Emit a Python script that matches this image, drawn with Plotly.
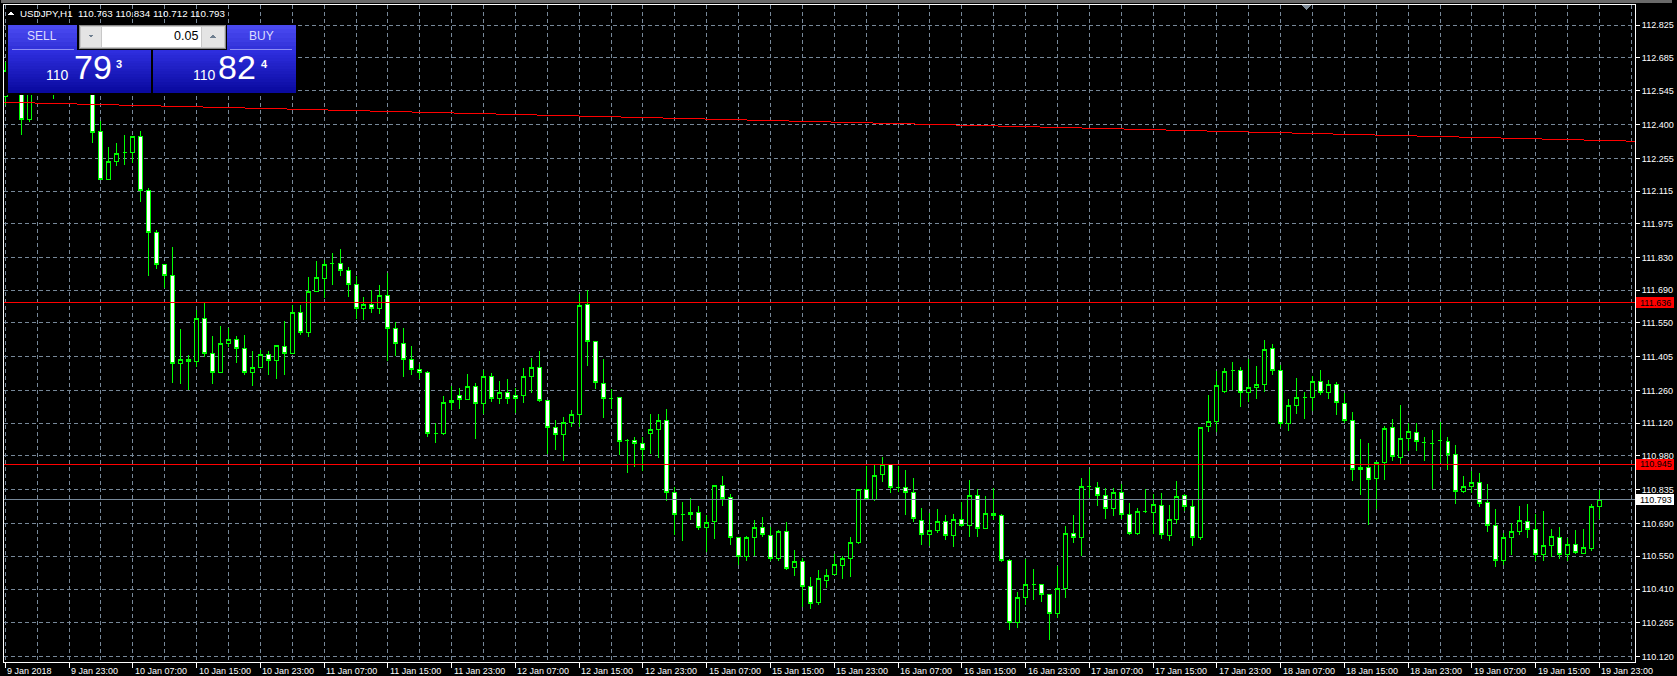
import plotly.graph_objects as go

# ---------------- data (USDJPY, H1) ----------------
opens = [112.520, 112.630, 112.700, 112.422, 112.620, 112.710, 112.760, 112.600, 112.660, 112.690,
         112.630, 112.620, 112.369, 112.165, 112.242, 112.281, 112.281, 112.349, 112.118, 111.938,
         111.801, 111.752, 111.377, 111.394, 111.386, 111.570, 111.420, 111.338, 111.463, 111.480,
         111.441, 111.338, 111.360, 111.416, 111.390, 111.450, 111.420, 111.595, 111.510, 111.685,
         111.739, 111.805, 111.805, 111.775, 111.715, 111.613, 111.631, 111.613, 111.668, 111.527,
         111.463, 111.394, 111.351, 111.338, 111.077, 111.077, 111.219, 111.240, 111.223, 111.278,
         111.206, 111.321, 111.227, 111.253, 111.240, 111.240, 111.321, 111.360, 111.219, 111.103,
         111.073, 111.124, 111.159, 111.630, 111.471, 111.291, 111.227, 111.231, 111.047, 111.047,
         111.034, 111.077, 111.094, 111.133, 110.824, 110.730, 110.739, 110.739, 110.675, 110.701,
         110.854, 110.803, 110.632, 110.550, 110.632, 110.675, 110.640, 110.541, 110.657, 110.502,
         110.528, 110.422, 110.353, 110.447, 110.473, 110.511, 110.541, 110.610, 110.837, 110.795,
         110.900, 110.944, 110.845, 110.845, 110.824, 110.705, 110.644, 110.662, 110.701, 110.640,
         110.709, 110.682, 110.811, 110.670, 110.734, 110.726, 110.533, 110.268, 110.373, 110.431,
         110.430, 110.387, 110.307, 110.413, 110.649, 110.632, 110.848, 110.845, 110.811, 110.754,
         110.824, 110.730, 110.649, 110.743, 110.739, 110.769, 110.640, 110.709, 110.811, 110.765,
         110.632, 111.107, 111.129, 111.257, 111.345, 111.347, 111.254, 111.274, 111.287, 111.441,
         111.347, 111.120, 111.197, 111.231, 111.231, 111.300, 111.253, 111.287, 111.206, 111.133,
         110.923, 110.931, 110.884, 110.953, 111.103, 110.975, 111.055, 111.081, 111.037, 111.034,
         111.045, 111.043, 110.985, 110.829, 110.850, 110.867, 110.781, 110.682, 110.534, 110.632,
         110.655, 110.701, 110.667, 110.559, 110.596, 110.632, 110.559, 110.602, 110.563, 110.585,
         110.763]
highs = [112.668, 112.740, 112.730, 112.660, 112.750, 112.800, 112.790, 112.700, 112.730, 112.720,
         112.680, 112.650, 112.415, 112.302, 112.319, 112.354, 112.349, 112.372, 112.127, 111.947,
         111.801, 111.875, 111.524, 111.411, 111.604, 111.640, 111.494, 111.536, 111.527, 111.494,
         111.497, 111.428, 111.432, 111.428, 111.454, 111.557, 111.625, 111.627, 111.745, 111.814,
         111.818, 111.849, 111.867, 111.790, 111.750, 111.660, 111.690, 111.711, 111.763, 111.553,
         111.527, 111.449, 111.373, 111.343, 111.120, 111.236, 111.278, 111.270, 111.331, 111.291,
         111.347, 111.334, 111.300, 111.308, 111.270, 111.357, 111.398, 111.428, 111.219, 111.133,
         111.146, 111.176, 111.673, 111.690, 111.471, 111.394, 111.266, 111.231, 111.051, 111.060,
         111.062, 111.159, 111.159, 111.181, 110.848, 110.783, 110.800, 110.766, 110.729, 110.854,
         110.894, 110.817, 110.632, 110.637, 110.706, 110.718, 110.677, 110.663, 110.697, 110.576,
         110.545, 110.460, 110.490, 110.494, 110.558, 110.550, 110.632, 110.837, 110.936, 110.941,
         110.974, 110.944, 110.936, 110.920, 110.886, 110.758, 110.735, 110.752, 110.727, 110.731,
         110.781, 110.877, 110.837, 110.807, 110.842, 110.730, 110.540, 110.396, 110.540, 110.494,
         110.432, 110.387, 110.508, 110.678, 110.727, 110.885, 110.923, 110.870, 110.842, 110.842,
         110.859, 110.777, 110.756, 110.837, 110.816, 110.820, 110.769, 110.872, 110.816, 110.795,
         111.105, 111.240, 111.344, 111.356, 111.381, 111.360, 111.394, 111.364, 111.476, 111.458,
         111.370, 111.223, 111.313, 111.255, 111.321, 111.347, 111.304, 111.296, 111.248, 111.167,
         111.051, 111.034, 110.955, 111.107, 111.137, 111.197, 111.120, 111.120, 111.062, 111.092,
         111.126, 111.062, 111.027, 110.893, 110.914, 110.907, 110.860, 110.753, 110.651, 110.691,
         110.766, 110.774, 110.730, 110.744, 110.666, 110.675, 110.627, 110.662, 110.666, 110.773,
         110.834]
lows = [112.484, 112.580, 112.355, 112.410, 112.600, 112.660, 112.509, 112.560, 112.620, 112.600,
        112.580, 112.322, 112.162, 112.165, 112.222, 112.228, 112.234, 112.069, 111.752, 111.781,
        111.698, 111.293, 111.290, 111.261, 111.360, 111.405, 111.287, 111.338, 111.448, 111.377,
        111.327, 111.278, 111.360, 111.326, 111.308, 111.326, 111.420, 111.497, 111.491, 111.681,
        111.655, 111.711, 111.750, 111.662, 111.566, 111.561, 111.591, 111.587, 111.386, 111.407,
        111.319, 111.326, 111.311, 111.062, 111.037, 111.071, 111.177, 111.181, 111.223, 111.054,
        111.159, 111.210, 111.204, 111.204, 111.163, 111.208, 111.248, 111.210, 110.987, 111.007,
        110.959, 111.106, 111.106, 111.367, 111.266, 111.144, 111.183, 110.983, 110.908, 110.934,
        110.917, 110.988, 110.970, 110.788, 110.641, 110.615, 110.706, 110.662, 110.568, 110.624,
        110.767, 110.600, 110.513, 110.530, 110.550, 110.632, 110.531, 110.531, 110.491, 110.467,
        110.334, 110.323, 110.342, 110.413, 110.473, 110.453, 110.463, 110.601, 110.790, 110.788,
        110.870, 110.820, 110.824, 110.729, 110.695, 110.600, 110.593, 110.651, 110.621, 110.592,
        110.675, 110.634, 110.634, 110.666, 110.705, 110.527, 110.234, 110.242, 110.342, 110.363,
        110.355, 110.192, 110.286, 110.373, 110.606, 110.553, 110.800, 110.767, 110.711, 110.724,
        110.711, 110.640, 110.641, 110.734, 110.644, 110.624, 110.615, 110.688, 110.743, 110.593,
        110.619, 111.083, 111.082, 111.248, 111.263, 111.189, 111.210, 111.224, 111.255, 111.328,
        111.105, 111.088, 111.160, 111.140, 111.174, 111.242, 111.223, 111.155, 111.120, 110.874,
        110.814, 110.686, 110.753, 110.878, 110.958, 110.946, 111.003, 111.003, 110.960, 110.837,
        110.952, 110.920, 110.774, 110.821, 110.822, 110.760, 110.654, 110.504, 110.513, 110.555,
        110.641, 110.629, 110.530, 110.530, 110.548, 110.540, 110.530, 110.561, 110.559, 110.572,
        110.712]
closes = [112.630, 112.700, 112.422, 112.620, 112.710, 112.760, 112.600, 112.660, 112.690, 112.630,
          112.620, 112.367, 112.165, 112.242, 112.277, 112.281, 112.349, 112.118, 111.938, 111.801,
          111.752, 111.377, 111.394, 111.386, 111.570, 111.420, 111.338, 111.463, 111.480, 111.441,
          111.338, 111.360, 111.416, 111.390, 111.454, 111.420, 111.595, 111.510, 111.685, 111.745,
          111.801, 111.805, 111.775, 111.715, 111.613, 111.631, 111.613, 111.668, 111.527, 111.463,
          111.394, 111.351, 111.337, 111.077, 111.077, 111.210, 111.210, 111.223, 111.278, 111.206,
          111.321, 111.227, 111.253, 111.227, 111.227, 111.321, 111.360, 111.219, 111.103, 111.073,
          111.124, 111.159, 111.625, 111.471, 111.296, 111.227, 111.227, 111.043, 111.047, 111.034,
          111.009, 111.094, 111.133, 110.824, 110.730, 110.730, 110.730, 110.675, 110.697, 110.854,
          110.799, 110.632, 110.550, 110.632, 110.675, 110.644, 110.541, 110.657, 110.498, 110.528,
          110.422, 110.349, 110.456, 110.469, 110.515, 110.541, 110.610, 110.837, 110.795, 110.896,
          110.944, 110.845, 110.845, 110.824, 110.712, 110.644, 110.662, 110.701, 110.640, 110.709,
          110.682, 110.811, 110.670, 110.734, 110.726, 110.533, 110.268, 110.373, 110.430, 110.431,
          110.385, 110.307, 110.413, 110.649, 110.632, 110.850, 110.848, 110.811, 110.754, 110.824,
          110.730, 110.649, 110.743, 110.743, 110.773, 110.644, 110.709, 110.807, 110.765, 110.632,
          111.103, 111.129, 111.283, 111.343, 111.345, 111.254, 111.274, 111.287, 111.437, 111.347,
          111.120, 111.197, 111.231, 111.231, 111.300, 111.253, 111.287, 111.210, 111.133, 110.923,
          110.931, 110.880, 110.953, 111.099, 110.979, 111.055, 111.086, 111.043, 111.037, 111.034,
          111.045, 110.987, 110.829, 110.850, 110.867, 110.775, 110.682, 110.534, 110.632, 110.657,
          110.705, 110.667, 110.559, 110.596, 110.636, 110.559, 110.602, 110.567, 110.589, 110.765,
          110.793]

x_tick_labels = ["9 Jan 2018", "9 Jan 23:00", "10 Jan 07:00", "10 Jan 15:00", "10 Jan 23:00",
                 "11 Jan 07:00", "11 Jan 15:00", "11 Jan 23:00", "12 Jan 07:00", "12 Jan 15:00",
                 "12 Jan 23:00", "15 Jan 07:00", "15 Jan 15:00", "15 Jan 23:00", "16 Jan 07:00",
                 "16 Jan 15:00", "16 Jan 23:00", "17 Jan 07:00", "17 Jan 15:00", "17 Jan 23:00",
                 "18 Jan 07:00", "18 Jan 15:00", "18 Jan 23:00", "19 Jan 07:00", "19 Jan 15:00",
                 "19 Jan 23:00"]
bars_per_label = 8
bars_per_grid = 4
y_tick_values = [112.825, 112.685, 112.545, 112.400, 112.255, 112.115, 111.975, 111.830, 111.690,
                 111.550, 111.405, 111.260, 111.120, 110.980, 110.835, 110.690, 110.550, 110.410,
                 110.265, 110.120]
level_prices = [111.636, 110.945]
bid_price = 110.793
trend_bars = [-1, 205]
trend_prices = [112.496, 112.328]

symbol = "USDJPY,H1"
sell_parts = ["110", "79", "3"]
buy_parts = ["110", "82", "4"]
lot_text = "0.05"

# ---------------- geometry ----------------
FW, FH = 1677, 676
L, R, T, B = 3, 1640, 5, 662
PW, PH = R - L, B - T
BAR_PX, BAR0_PX = 8.0, 4.3
x_range = [(L - BAR0_PX) / BAR_PX, (R - BAR0_PX) / BAR_PX]
y_range = [110.0973, 112.9120]

FONT = "Liberation Sans"
GRID = "#778899"
LIME = "#00FF00"


def pxx(x):
    return (x - L) / PW


def pyy(y):
    return (B - y) / PH


def price_to_py(p):
    return T + (y_range[1] - p) / (y_range[1] - y_range[0]) * PH


n = len(opens)
fig = go.Figure()
fig.add_trace(go.Candlestick(
    x=list(range(n)), open=opens, high=highs, low=lows, close=closes,
    increasing=dict(line=dict(color=LIME, width=1), fillcolor="#000000"),
    decreasing=dict(line=dict(color=LIME, width=1), fillcolor="#FFFFFF"),
    whiskerwidth=0, showlegend=False, hoverinfo="skip"))

shapes = []
annotations = []

# top window strip
shapes.append(dict(type="rect", xref="paper", yref="paper", x0=pxx(0), x1=pxx(FW),
                   y0=pyy(0), y1=pyy(2.5), fillcolor="#6A6A6A", line=dict(width=0), layer="above"))

# trend line (red)
shapes.append(dict(type="line", xref="x", yref="y", x0=trend_bars[0], x1=trend_bars[1],
                   y0=trend_prices[0], y1=trend_prices[1], line=dict(color="#FF0000", width=1),
                   layer="above"))
# horizontal levels
for p in level_prices:
    shapes.append(dict(type="line", xref="paper", yref="y", x0=0, x1=1, y0=p, y1=p,
                       line=dict(color="#FF0000", width=1), layer="above"))
shapes.append(dict(type="line", xref="paper", yref="y", x0=0, x1=1, y0=bid_price, y1=bid_price,
                   line=dict(color=GRID, width=1), layer="above"))


# price label boxes on the axis
def price_box(p, bg):
    yc = price_to_py(p)
    shapes.append(dict(type="rect", xref="paper", yref="paper", x0=pxx(1641), x1=pxx(FW + 2),
                       y0=pyy(yc + 5.5), y1=pyy(yc - 5.5), fillcolor=bg, line=dict(width=0),
                       layer="above"))
    annotations.append(dict(xref="paper", yref="paper", x=pxx(1643), y=pyy(yc), xanchor="left",
                            yanchor="middle", text=f"{p:.3f}", showarrow=False,
                            font=dict(family=FONT, size=9, color="#000000")))


for p in level_prices:
    price_box(p, "#FF0000")
price_box(bid_price, "#FFFFFF")

# chart-shift marker
shapes.append(dict(type="path", xref="paper", yref="paper",
                   path=f"M {pxx(1305.5)} {pyy(5)} L {pxx(1315.5)} {pyy(5)} L {pxx(1310.5)} {pyy(10)} Z",
                   fillcolor="#7F8C99", line=dict(width=0), layer="above"))

# title triangle + text
shapes.append(dict(type="path", xref="paper", yref="paper",
                   path=f"M {pxx(7)} {pyy(15)} L {pxx(13)} {pyy(15)} L {pxx(10)} {pyy(11)} Z",
                   fillcolor="#FFFFFF", line=dict(width=0), layer="above"))
ohlc_txt = f"{opens[-1]:.3f} {highs[-1]:.3f} {lows[-1]:.3f} {closes[-1]:.3f}"
annotations.append(dict(xref="paper", yref="paper", x=pxx(17.5), y=pyy(13.3), xanchor="left",
                        yanchor="middle", text=f"{symbol}&nbsp;&nbsp;{ohlc_txt}", showarrow=False,
                        font=dict(family=FONT, size=9.8, color="#FFFFFF")))


# ---------------- one-click trading panel ----------------
def rect(x0, y0, x1, y1, fill, line=None):
    shapes.append(dict(type="rect", xref="paper", yref="paper", x0=pxx(x0), x1=pxx(x1),
                       y0=pyy(y1), y1=pyy(y0), fillcolor=fill,
                       line=line if line else dict(width=0), layer="above"))


def gradient(x0, y0, x1, y1, c0, c1, steps=14):
    for i in range(steps):
        t = i / (steps - 1)
        c = tuple(int(round(c0[k] + (c1[k] - c0[k]) * t)) for k in range(3))
        ya = y0 + (y1 - y0) * i / steps
        yb = y0 + (y1 - y0) * (i + 1) / steps + 0.3
        rect(x0, ya, x1, yb, f"rgb({c[0]},{c[1]},{c[2]})")


rect(5, 23.5, 298, 94.5, "#000000")
gradient(7, 25, 76, 50, (74, 74, 240), (50, 50, 218), 6)
gradient(227, 25, 296, 50, (74, 74, 240), (50, 50, 218), 6)
rect(11, 48.6, 73, 49.6, "#8E8EF5")
rect(230, 48.6, 292, 49.6, "#8E8EF5")
gradient(7, 50, 151, 92.7, (46, 46, 222), (10, 10, 160), 16)
gradient(153, 50, 296, 92.7, (46, 46, 222), (10, 10, 160), 16)
# lot selector
rect(79, 25, 225, 48, "#C8C8C8", dict(color="#8A8A8A", width=1))
rect(80.5, 26.5, 100, 46.5, "#E4E4E4")
rect(202, 26.5, 223.5, 46.5, "#E4E4E4")
rect(101.5, 26.5, 201, 46.5, "#FFFFFF")
shapes.append(dict(type="path", xref="paper", yref="paper",
                   path=f"M {pxx(87.5)} {pyy(34.5)} L {pxx(93.5)} {pyy(34.5)} L {pxx(90.5)} {pyy(37.5)} Z",
                   fillcolor="#6F7F8F", line=dict(width=0), layer="above"))
shapes.append(dict(type="path", xref="paper", yref="paper",
                   path=f"M {pxx(209.5)} {pyy(37.5)} L {pxx(215.5)} {pyy(37.5)} L {pxx(212.5)} {pyy(34.5)} Z",
                   fillcolor="#6F7F8F", line=dict(width=0), layer="above"))


def ann(x, y, text, size, color, anchor="left", bold=False):
    t = f"<b>{text}</b>" if bold else text
    annotations.append(dict(xref="paper", yref="paper", x=pxx(x), y=pyy(y), xanchor=anchor,
                            yanchor="middle", text=t, showarrow=False,
                            font=dict(family=FONT, size=size, color=color)))


ann(41.5, 36.5, "SELL", 12, "#DCDCFF", "center")
ann(261, 36.5, "BUY", 12, "#DCDCFF", "center")
ann(200, 36, lot_text, 12.5, "#000000", "right")
ann(43.5, 75, sell_parts[0], 14, "#FFFFFF")
ann(71, 67, sell_parts[1], 34, "#FFFFFF")
ann(113.5, 64.5, sell_parts[2], 11, "#FFFFFF", bold=True)
ann(190.5, 75, buy_parts[0], 14, "#FFFFFF")
ann(216, 67, buy_parts[1], 34, "#FFFFFF")
ann(259, 64.5, buy_parts[2], 11, "#FFFFFF", bold=True)

# x-axis labels (left aligned at their tick)
for k, lab in enumerate(x_tick_labels):
    annotations.append(dict(xref="x", yref="paper", x=k * bars_per_label, y=pyy(670.5),
                            xanchor="left", yanchor="middle", text=lab, showarrow=False,
                            font=dict(family=FONT, size=9, color="#FFFFFF")))

fig.update_layout(
    width=FW, height=FH, autosize=False,
    margin=dict(l=L, r=FW - R, t=T, b=FH - B, pad=0),
    paper_bgcolor="#000000", plot_bgcolor="#000000",
    showlegend=False, boxgap=0.5, boxgroupgap=0,
    xaxis=dict(range=x_range, tickmode="linear", tick0=0, dtick=bars_per_label,
               showticklabels=False, ticks="outside", ticklen=5, tickcolor="#FFFFFF",
               showgrid=True, gridcolor=GRID, griddash="4px,3px", gridwidth=1,
               minor=dict(tickmode="linear", tick0=0, dtick=bars_per_grid, showgrid=True,
                          gridcolor=GRID, griddash="4px,3px", gridwidth=1, ticks=""),
               showline=True, linecolor="#FFFFFF", linewidth=1, mirror=True,
               zeroline=False, rangeslider=dict(visible=False), fixedrange=True),
    yaxis=dict(side="right", range=y_range, tickmode="array", tickvals=y_tick_values,
               ticktext=[f"{v:.3f}" for v in y_tick_values],
               showgrid=True, gridcolor=GRID, griddash="4px,3px", gridwidth=1,
               ticks="outside", ticklen=4, tickcolor="#FFFFFF",
               tickfont=dict(family=FONT, size=9, color="#FFFFFF"),
               showline=True, linecolor="#FFFFFF", linewidth=1, mirror=True,
               zeroline=False, fixedrange=True),
    shapes=shapes, annotations=annotations,
)

post_js = (
    "document.body.style.margin='0px';"
    "document.body.style.background='#000';"
    "var st=document.createElement('style');"
    "st.textContent='.main-svg path{shape-rendering:crispEdges;}';"
    "document.head.appendChild(st);"
)
fig.write_html("out.html", config={"displayModeBar": False}, post_script=post_js)
